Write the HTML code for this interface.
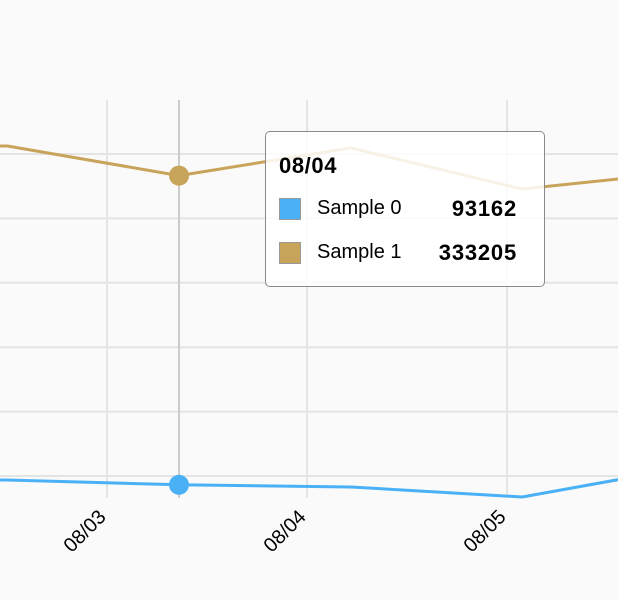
<!DOCTYPE html>
<html><head><meta charset="utf-8"><style>
html,body{margin:0;padding:0;background:#fafafa;}
body{width:618px;height:600px;overflow:hidden;position:relative;font-family:"Liberation Sans",Helvetica,Arial,sans-serif;}
#tooltip{position:absolute;left:265px;top:131px;width:278px;height:154px;border:1px solid #8a8a8a;border-radius:5px;background:rgba(255,255,255,0.85);box-sizing:content-box;}
.tt-title{position:absolute;left:13px;top:21px;font-weight:bold;font-size:22px;letter-spacing:0.6px;color:#000;}
.row{position:absolute;left:13px;height:22px;width:238px;font-size:20px;}
.sw{position:absolute;left:0;top:0;width:20px;height:20px;border:1px solid #999;}
.lab{position:absolute;left:38px;top:-1px;}
.val{position:absolute;right:0;top:-2px;font-weight:bold;font-size:22px;letter-spacing:0.8px;}
</style></head><body>
<svg id="chart" width="618" height="600" style="position:absolute;left:0;top:0"></svg>
<div id="tooltip">
 <div class="tt-title">08/04</div>
 <div class="row" style="top:66px"><div class="sw" style="background:#4ab1f7"></div><span class="lab">Sample 0</span><span class="val">93162</span></div>
 <div class="row" style="top:110px"><div class="sw" style="background:#c8a35a"></div><span class="lab">Sample 1</span><span class="val">333205</span></div>
</div>
<script>
const sample0 = [97000, 96900, 93162, 91500, 83700, 107800];
const sample1 = [357000, 356200, 333205, 354700, 322800, 336800];
const yTicks = [0, 50000, 100000, 150000, 200000, 250000, 300000, 350000, 400000];
const xTickLabels = ['08/03', '08/04', '08/05'];
const xTickDays = [0, 1, 2];
const hoverIndex = 2;

const NS = 'http://www.w3.org/2000/svg';
const svg = document.getElementById('chart');
const x = i => 179 + 171.6 * (i - 2);
const xDay = d => 107 + 200 * d;
const y = v => 476 - (v - 100000) / 50000 * 64.4;
const plotTop = 100, plotBottom = 498;
function mk(tag, attrs){const e=document.createElementNS(NS,tag);for(const k in attrs)e.setAttribute(k,attrs[k]);svg.appendChild(e);return e;}

yTicks.forEach(v=>{const yy=y(v);if(yy<plotTop||yy>plotBottom)return;
 const l=mk('line',{x1:0,x2:618,y1:yy,y2:yy,stroke:'#e4e4e4','stroke-width':2});
 
 });
xTickDays.forEach((d,i)=>{const xx=xDay(d);
 const l=mk('line',{x1:xx,x2:xx,y1:plotTop,y2:plotBottom,stroke:'#e4e4e4','stroke-width':2});
 
 
 const t=mk('text',{x:xx,y:518,'text-anchor':'end','font-size':20,fill:'#000',transform:`rotate(-45 ${xx} 518)`});
 t.textContent=xTickLabels[i];
 
 });

const hl=mk('line',{x1:x(hoverIndex),x2:x(hoverIndex),y1:plotTop,y2:plotBottom,stroke:'#cccccc','stroke-width':2});



[[sample0,'#4ab1f7','sample-0'],[sample1,'#c8a35a','sample-1']].forEach(([arr,c,n])=>{
 const p=mk('polyline',{points:arr.map((v,i)=>x(i)+','+y(v)).join(' '),fill:'none',stroke:c,'stroke-width':3,'stroke-linejoin':'round'});
 
 
 const dot=mk('circle',{cx:x(hoverIndex),cy:y(arr[hoverIndex]),r:10,fill:c});
 
 
});
</script>
</body></html>
